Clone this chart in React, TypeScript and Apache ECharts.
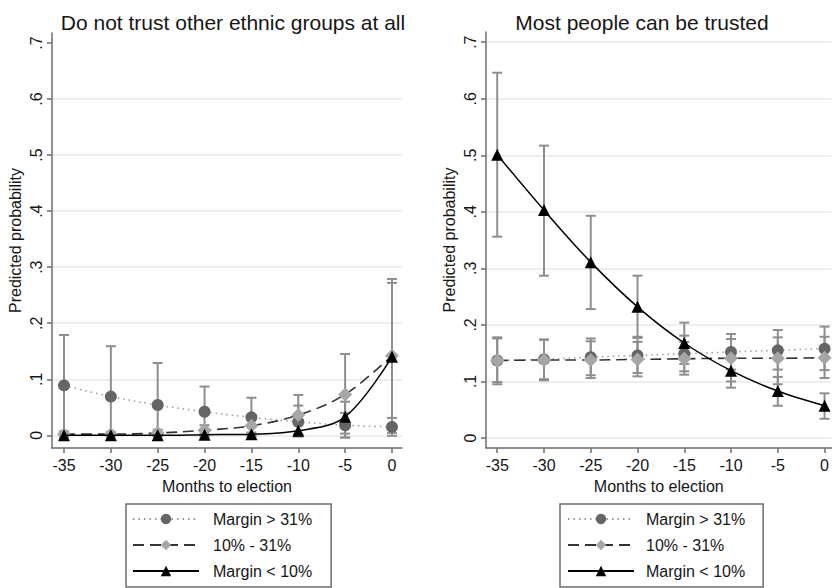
import React, { useEffect, useRef } from "react";
import * as echarts from "echarts";

// Months before the election at which predictions were computed
const months = [-35, -30, -25, -20, -15, -10, -5, 0];
const xTicks = [-35, -30, -25, -20, -15, -10, -5, 0];
const yTicks = [0, 0.1, 0.2, 0.3, 0.4, 0.5, 0.6, 0.7];

const seriesNames = ["Margin > 31%", "10% - 31%", "Margin < 10%"];

// Panel 1: Do not trust other ethnic groups at all
const distrustHigh = [0.089, 0.069, 0.054, 0.042, 0.032, 0.024, 0.018, 0.015];
const distrustHighLo = [-0.001, -0.002, -0.002, -0.002, -0.001, -0.002, -0.004, -0.001];
const distrustHighHi = [0.179, 0.159, 0.129, 0.087, 0.067, 0.053, 0.04, 0.031];

const distrustMid = [0.002, 0.002, 0.004, 0.009, 0.017, 0.036, 0.073, 0.142];
const distrustMidLo = [-0.003, -0.002, -0.002, -0.001, 0.001, 0.002, -0.004, 0.004];
const distrustMidHi = [0.007, 0.006, 0.01, 0.018, 0.033, 0.072, 0.145, 0.279];

const distrustLow = [0.0, 0.0, 0.0, 0.001, 0.002, 0.008, 0.033, 0.14];
const distrustLowLo = [-0.001, -0.001, -0.001, -0.001, -0.001, -0.002, 0.003, 0.012];
const distrustLowHi = [0.001, 0.001, 0.001, 0.003, 0.005, 0.018, 0.06, 0.272];

// Panel 2: Most people can be trusted
const trustHigh = [0.137, 0.139, 0.143, 0.146, 0.149, 0.152, 0.155, 0.158];
const trustHighLo = [0.099, 0.104, 0.111, 0.115, 0.118, 0.121, 0.121, 0.12];
const trustHighHi = [0.178, 0.174, 0.176, 0.179, 0.181, 0.184, 0.191, 0.197];

const trustMid = [0.137, 0.138, 0.138, 0.139, 0.14, 0.141, 0.141, 0.142];
const trustMidLo = [0.095, 0.102, 0.106, 0.109, 0.112, 0.1, 0.095, 0.106];
const trustMidHi = [0.176, 0.174, 0.171, 0.17, 0.17, 0.175, 0.178, 0.179];

const trustLow = [0.501, 0.403, 0.311, 0.232, 0.168, 0.119, 0.083, 0.057];
const trustLowLo = [0.356, 0.287, 0.228, 0.177, 0.131, 0.089, 0.057, 0.034];
const trustLowHi = [0.646, 0.517, 0.393, 0.287, 0.204, 0.15, 0.108, 0.079];

const FONT = "'Liberation Sans', Arial, Helvetica, sans-serif";
const AXIS_COLOR = "#6e6e6e";
const GRID_COLOR = "#e9e9e9";
const CI_COLOR = "#8e8e8e";
const TEXT_COLOR = "#161616";

const styles = [
  { symbol: "circle", size: 12, fill: "#656565", line: "#9a9a9a", type: [1.5, 4] as any, width: 1.5 },
  { symbol: "diamond", size: 14, fill: "#a6a6a6", line: "#333333", type: [11, 6] as any, width: 1.6 },
  { symbol: "triangle", size: 12, fill: "#000000", line: "#000000", type: "solid" as any, width: 1.5 },
];

function ciSeries(idx: number, lo: number[], hi: number[]) {
  return {
    type: "custom",
    xAxisIndex: idx,
    yAxisIndex: idx,
    silent: true,
    z: 1,
    encode: { x: 0, y: [1, 2] },
    data: months.map((m, i) => [m, lo[i], hi[i]]),
    renderItem: (_params: any, api: any) => {
      const x = api.value(0);
      const a = api.coord([x, api.value(1)]);
      const b = api.coord([x, api.value(2)]);
      const cap = 5;
      const style = { stroke: CI_COLOR, lineWidth: 2 };
      return {
        type: "group",
        children: [
          { type: "line", shape: { x1: a[0], y1: a[1], x2: b[0], y2: b[1] }, style },
          { type: "line", shape: { x1: a[0] - cap, y1: a[1], x2: a[0] + cap, y2: a[1] }, style },
          { type: "line", shape: { x1: b[0] - cap, y1: b[1], x2: b[0] + cap, y2: b[1] }, style },
        ],
      };
    },
  };
}

function lineSeries(idx: number, k: number, vals: number[]) {
  const s = styles[k];
  return {
    type: "line",
    name: seriesNames[k],
    xAxisIndex: idx,
    yAxisIndex: idx,
    z: 3 + k,
    smooth: 0.35,
    symbol: s.symbol,
    symbolSize: s.size,
    showAllSymbol: true,
    data: months.map((m, i) => [m, vals[i]]),
    itemStyle: { color: s.fill, borderWidth: 0 },
    lineStyle: { color: s.line, type: s.type, width: s.width },
    emphasis: { disabled: true },
  };
}

function xAxis(idx: number, min: number, max: number) {
  return {
    type: "value",
    gridIndex: idx,
    min,
    max,
    name: "Months to election",
    nameLocation: "middle",
    nameGap: 30,
    nameTextStyle: { fontSize: 16, fontFamily: FONT, color: TEXT_COLOR },
    axisLine: { show: true, onZero: false, lineStyle: { color: AXIS_COLOR, width: 1.5 } },
    axisTick: { show: true, customValues: xTicks, length: 5, lineStyle: { color: AXIS_COLOR, width: 1.5 } },
    axisLabel: {
      customValues: xTicks,
      formatter: (v: number) => String(v),
      fontSize: 16,
      fontFamily: FONT,
      color: TEXT_COLOR,
      margin: 9,
    },
    splitLine: { show: false },
  };
}

function yAxis(idx: number, min: number, max: number, gridColors: string[]) {
  return {
    type: "value",
    gridIndex: idx,
    min,
    max,
    name: "Predicted probability",
    nameLocation: "middle",
    nameRotate: 90,
    nameGap: 29,
    nameTextStyle: { fontSize: 16, fontFamily: FONT, color: TEXT_COLOR },
    axisLine: { show: true, onZero: false, lineStyle: { color: AXIS_COLOR, width: 1.5 } },
    axisTick: { show: true, customValues: yTicks, length: 5, lineStyle: { color: AXIS_COLOR, width: 1.5 } },
    axisLabel: {
      customValues: yTicks,
      rotate: 90,
      formatter: (v: number) => (Math.abs(v) < 1e-9 ? "0" : "." + Math.round(v * 10)),
      fontSize: 16,
      fontFamily: FONT,
      color: TEXT_COLOR,
      margin: 8,
    },
    splitLine: { show: true, lineStyle: { color: gridColors, width: 1.5 } },
  };
}

function legend(left: number, padding: number[], textPad: number) {
  return {
    orient: "vertical",
    left,
    top: 504,
    padding,
    borderColor: AXIS_COLOR,
    borderWidth: 1.5,
    borderRadius: 0,
    itemWidth: 66,
    itemHeight: 13,
    itemGap: 6,
    selectedMode: false,
    data: seriesNames,
    textStyle: { fontSize: 16, fontFamily: FONT, color: TEXT_COLOR, lineHeight: 20, padding: [0, 0, 0, textPad] },
  };
}

export default function App() {
  const ref = useRef<HTMLDivElement>(null);

  useEffect(() => {
    if (!ref.current) return;
    const chart = echarts.init(ref.current, undefined, { renderer: "svg" });
    const leftGrid = Array(7).fill(GRID_COLOR).concat(["rgba(0,0,0,0)"]);
    const rightGrid = Array(8).fill(GRID_COLOR);

    chart.setOption({
      animation: false,
      backgroundColor: "#ffffff",
      title: [
        {
          text: "Do not trust other ethnic groups at all",
          left: 228,
          top: 7,
          textAlign: "center",
          textStyle: { fontSize: 21, fontWeight: "normal", fontFamily: FONT, color: TEXT_COLOR },
        },
        {
          text: "Most people can be trusted",
          left: 637,
          top: 7,
          textAlign: "center",
          textStyle: { fontSize: 21, fontWeight: "normal", fontFamily: FONT, color: TEXT_COLOR },
        },
      ],
      grid: [
        { left: 52, top: 33, width: 350, height: 415 },
        { left: 486, top: 32, width: 346, height: 416 },
      ],
      xAxis: [xAxis(0, -36.28, 1.07), xAxis(1, -36.2, 0.75)],
      yAxis: [yAxis(0, -0.0227, 0.718, leftGrid), yAxis(1, -0.0177, 0.718, rightGrid)],
      legend: [legend(126, [5, 19, 6, 6], 9), legend(560, [5, 18, 6, 7], 7)],
      series: [
        ciSeries(0, distrustHighLo, distrustHighHi),
        ciSeries(0, distrustMidLo, distrustMidHi),
        ciSeries(0, distrustLowLo, distrustLowHi),
        lineSeries(0, 0, distrustHigh),
        lineSeries(0, 1, distrustMid),
        lineSeries(0, 2, distrustLow),
        ciSeries(1, trustHighLo, trustHighHi),
        ciSeries(1, trustMidLo, trustMidHi),
        ciSeries(1, trustLowLo, trustLowHi),
        lineSeries(1, 0, trustHigh),
        lineSeries(1, 1, trustMid),
        lineSeries(1, 2, trustLow),
      ],
    });

    return () => chart.dispose();
  }, []);

  return (
    <div
      ref={ref}
      style={{ position: "fixed", left: 0, top: 0, width: 832, height: 588, background: "#ffffff" }}
    />
  );
}
